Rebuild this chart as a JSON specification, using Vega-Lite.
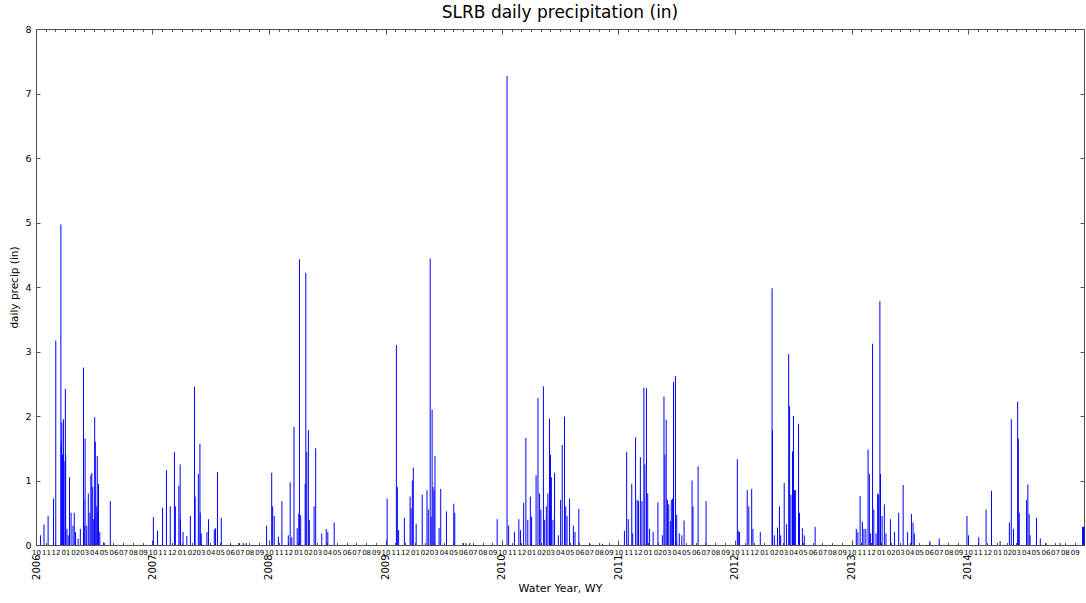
{
  "$schema": "https://vega.github.io/schema/vega-lite/v6.json",
  "width": 1048,
  "height": 516,
  "autosize": {"type": "none"},
  "padding": {"left": 36, "top": 29, "right": 2, "bottom": 58},
  "background": "white",
  "title": {"text": "SLRB daily precipitation (in)", "font": "DejaVu Sans", "fontSize": 17, "fontWeight": "normal", "color": "#000", "anchor": "middle", "offset": 2},
  "config": {
    "view": {"stroke": "#505050", "strokeWidth": 1},
    "axis": {"domain": false, "grid": false, "labelFont": "DejaVu Sans", "titleFont": "DejaVu Sans", "tickColor": "#505050", "labelColor": "#000", "titleColor": "#000", "titleFontWeight": "normal", "labelFlush": false, "labelBound": false, "labelOverlap": false}
  },
  "data": {"values": [
    {"date": "2005-10-15", "precip": 0.15},
    {"date": "2005-10-26", "precip": 0.32},
    {"date": "2005-11-08", "precip": 0.45},
    {"date": "2005-11-25", "precip": 0.72},
    {"date": "2005-12-02", "precip": 3.17},
    {"date": "2005-12-18", "precip": 4.97},
    {"date": "2005-12-19", "precip": 1.6},
    {"date": "2005-12-21", "precip": 1.9},
    {"date": "2005-12-23", "precip": 1.4},
    {"date": "2005-12-26", "precip": 1.95},
    {"date": "2005-12-28", "precip": 1.3},
    {"date": "2006-01-01", "precip": 2.42},
    {"date": "2006-01-02", "precip": 1.4},
    {"date": "2006-01-06", "precip": 0.25},
    {"date": "2006-01-10", "precip": 0.15},
    {"date": "2006-01-14", "precip": 1.05},
    {"date": "2006-01-19", "precip": 0.5},
    {"date": "2006-01-25", "precip": 0.3},
    {"date": "2006-01-29", "precip": 0.5},
    {"date": "2006-02-02", "precip": 0.2},
    {"date": "2006-02-10", "precip": 0.1},
    {"date": "2006-02-17", "precip": 0.25},
    {"date": "2006-02-27", "precip": 2.75},
    {"date": "2006-02-28", "precip": 0.7},
    {"date": "2006-03-01", "precip": 0.3},
    {"date": "2006-03-04", "precip": 1.65},
    {"date": "2006-03-09", "precip": 0.3},
    {"date": "2006-03-14", "precip": 0.8},
    {"date": "2006-03-19", "precip": 0.5},
    {"date": "2006-03-22", "precip": 1.08},
    {"date": "2006-03-25", "precip": 1.12},
    {"date": "2006-03-28", "precip": 0.9},
    {"date": "2006-03-31", "precip": 0.4},
    {"date": "2006-04-03", "precip": 1.98},
    {"date": "2006-04-05", "precip": 1.6},
    {"date": "2006-04-08", "precip": 0.6},
    {"date": "2006-04-11", "precip": 1.38},
    {"date": "2006-04-13", "precip": 0.5},
    {"date": "2006-04-15", "precip": 0.95},
    {"date": "2006-04-19", "precip": 0.2},
    {"date": "2006-05-01", "precip": 0.04},
    {"date": "2006-05-22", "precip": 0.68},
    {"date": "2006-10-04", "precip": 0.43},
    {"date": "2006-10-17", "precip": 0.22},
    {"date": "2006-11-02", "precip": 0.58},
    {"date": "2006-11-14", "precip": 1.16},
    {"date": "2006-11-26", "precip": 0.6},
    {"date": "2006-12-09", "precip": 1.44},
    {"date": "2006-12-12", "precip": 0.6},
    {"date": "2006-12-23", "precip": 0.92},
    {"date": "2006-12-27", "precip": 1.25},
    {"date": "2006-12-28", "precip": 0.4},
    {"date": "2007-01-05", "precip": 0.2},
    {"date": "2007-01-17", "precip": 0.14},
    {"date": "2007-01-28", "precip": 0.45},
    {"date": "2007-02-10", "precip": 2.45},
    {"date": "2007-02-12", "precip": 0.75},
    {"date": "2007-02-22", "precip": 1.1},
    {"date": "2007-02-27", "precip": 1.57},
    {"date": "2007-02-28", "precip": 0.5},
    {"date": "2007-03-03", "precip": 0.18},
    {"date": "2007-03-21", "precip": 0.2},
    {"date": "2007-03-26", "precip": 0.4},
    {"date": "2007-04-13", "precip": 0.24},
    {"date": "2007-04-17", "precip": 0.26},
    {"date": "2007-04-23", "precip": 1.13},
    {"date": "2007-05-05", "precip": 0.42},
    {"date": "2007-06-03", "precip": 0.02},
    {"date": "2007-06-29", "precip": 0.03},
    {"date": "2007-07-13", "precip": 0.03},
    {"date": "2007-07-22", "precip": 0.03},
    {"date": "2007-09-24", "precip": 0.3},
    {"date": "2007-10-10", "precip": 1.12},
    {"date": "2007-10-13", "precip": 0.6},
    {"date": "2007-10-18", "precip": 0.45},
    {"date": "2007-10-31", "precip": 0.13},
    {"date": "2007-11-11", "precip": 0.68},
    {"date": "2007-12-01", "precip": 0.15},
    {"date": "2007-12-07", "precip": 0.97},
    {"date": "2007-12-12", "precip": 0.12},
    {"date": "2007-12-19", "precip": 1.83},
    {"date": "2007-12-29", "precip": 0.26},
    {"date": "2008-01-03", "precip": 0.49},
    {"date": "2008-01-05", "precip": 4.43},
    {"date": "2008-01-09", "precip": 0.46},
    {"date": "2008-01-23", "precip": 0.95},
    {"date": "2008-01-25", "precip": 4.22},
    {"date": "2008-01-28", "precip": 1.44},
    {"date": "2008-02-02", "precip": 1.78},
    {"date": "2008-02-05", "precip": 0.39},
    {"date": "2008-02-20", "precip": 0.6},
    {"date": "2008-02-25", "precip": 1.5},
    {"date": "2008-03-15", "precip": 0.18},
    {"date": "2008-03-29", "precip": 0.25},
    {"date": "2008-04-03", "precip": 0.2},
    {"date": "2008-04-23", "precip": 0.35},
    {"date": "2008-10-06", "precip": 0.72},
    {"date": "2008-11-04", "precip": 3.1},
    {"date": "2008-11-07", "precip": 0.9},
    {"date": "2008-11-11", "precip": 0.23},
    {"date": "2008-11-29", "precip": 0.42},
    {"date": "2008-12-17", "precip": 0.75},
    {"date": "2008-12-20", "precip": 0.57},
    {"date": "2008-12-24", "precip": 1.0},
    {"date": "2008-12-27", "precip": 1.2},
    {"date": "2009-01-05", "precip": 0.33},
    {"date": "2009-01-24", "precip": 0.78},
    {"date": "2009-02-08", "precip": 0.85},
    {"date": "2009-02-12", "precip": 0.55},
    {"date": "2009-02-18", "precip": 4.44},
    {"date": "2009-02-21", "precip": 0.44},
    {"date": "2009-02-24", "precip": 2.1},
    {"date": "2009-02-27", "precip": 0.9},
    {"date": "2009-03-02", "precip": 0.85},
    {"date": "2009-03-05", "precip": 1.38},
    {"date": "2009-03-18", "precip": 0.26},
    {"date": "2009-03-23", "precip": 0.87},
    {"date": "2009-04-10", "precip": 0.52},
    {"date": "2009-05-03", "precip": 0.64},
    {"date": "2009-05-06", "precip": 0.5},
    {"date": "2009-06-01", "precip": 0.03},
    {"date": "2009-06-10", "precip": 0.03},
    {"date": "2009-06-22", "precip": 0.03},
    {"date": "2009-09-16", "precip": 0.4},
    {"date": "2009-10-17", "precip": 7.27},
    {"date": "2009-10-22", "precip": 0.3},
    {"date": "2009-11-09", "precip": 0.2},
    {"date": "2009-11-23", "precip": 0.4},
    {"date": "2009-11-28", "precip": 0.23},
    {"date": "2009-12-08", "precip": 0.65},
    {"date": "2009-12-15", "precip": 1.66},
    {"date": "2009-12-21", "precip": 0.39},
    {"date": "2009-12-29", "precip": 0.75},
    {"date": "2010-01-02", "precip": 0.44},
    {"date": "2010-01-16", "precip": 1.08},
    {"date": "2010-01-22", "precip": 2.28},
    {"date": "2010-01-27", "precip": 0.8},
    {"date": "2010-01-31", "precip": 0.55},
    {"date": "2010-02-08", "precip": 2.46},
    {"date": "2010-02-12", "precip": 0.39},
    {"date": "2010-02-17", "precip": 0.6},
    {"date": "2010-02-22", "precip": 0.8},
    {"date": "2010-02-27", "precip": 1.96},
    {"date": "2010-03-02", "precip": 1.4},
    {"date": "2010-03-05", "precip": 1.05},
    {"date": "2010-03-10", "precip": 0.39},
    {"date": "2010-03-15", "precip": 1.12},
    {"date": "2010-03-27", "precip": 0.15},
    {"date": "2010-04-03", "precip": 0.7},
    {"date": "2010-04-08", "precip": 1.55},
    {"date": "2010-04-15", "precip": 1.99},
    {"date": "2010-04-19", "precip": 0.6},
    {"date": "2010-04-23", "precip": 0.45},
    {"date": "2010-05-01", "precip": 0.72},
    {"date": "2010-05-13", "precip": 0.3},
    {"date": "2010-05-18", "precip": 0.2},
    {"date": "2010-05-30", "precip": 0.56},
    {"date": "2010-07-04", "precip": 0.02},
    {"date": "2010-08-12", "precip": 0.02},
    {"date": "2010-10-20", "precip": 0.22},
    {"date": "2010-10-27", "precip": 1.44},
    {"date": "2010-11-01", "precip": 0.4},
    {"date": "2010-11-12", "precip": 0.95},
    {"date": "2010-11-15", "precip": 0.18},
    {"date": "2010-11-24", "precip": 1.67},
    {"date": "2010-11-29", "precip": 0.7},
    {"date": "2010-12-03", "precip": 0.68},
    {"date": "2010-12-09", "precip": 1.36},
    {"date": "2010-12-14", "precip": 0.68},
    {"date": "2010-12-20", "precip": 2.44},
    {"date": "2010-12-23", "precip": 1.25},
    {"date": "2010-12-28", "precip": 2.43},
    {"date": "2011-01-01", "precip": 0.8},
    {"date": "2011-01-07", "precip": 0.25},
    {"date": "2011-01-18", "precip": 0.2},
    {"date": "2011-02-02", "precip": 0.66},
    {"date": "2011-02-16", "precip": 0.15},
    {"date": "2011-02-21", "precip": 2.3},
    {"date": "2011-02-24", "precip": 1.4},
    {"date": "2011-02-28", "precip": 1.94},
    {"date": "2011-03-04", "precip": 0.7},
    {"date": "2011-03-08", "precip": 0.63},
    {"date": "2011-03-13", "precip": 0.37},
    {"date": "2011-03-16", "precip": 0.7},
    {"date": "2011-03-20", "precip": 0.72},
    {"date": "2011-03-23", "precip": 2.53},
    {"date": "2011-03-29", "precip": 2.62},
    {"date": "2011-04-02", "precip": 0.47},
    {"date": "2011-04-10", "precip": 0.18},
    {"date": "2011-04-18", "precip": 0.15},
    {"date": "2011-04-25", "precip": 0.38},
    {"date": "2011-05-20", "precip": 1.0},
    {"date": "2011-05-23", "precip": 0.6},
    {"date": "2011-06-08", "precip": 1.22},
    {"date": "2011-07-03", "precip": 0.68},
    {"date": "2011-10-09", "precip": 1.33},
    {"date": "2011-10-12", "precip": 0.22},
    {"date": "2011-10-16", "precip": 0.2},
    {"date": "2011-11-09", "precip": 0.85},
    {"date": "2011-11-14", "precip": 0.6},
    {"date": "2011-11-23", "precip": 0.87},
    {"date": "2011-11-27", "precip": 0.25},
    {"date": "2011-12-20", "precip": 0.2},
    {"date": "2012-01-26", "precip": 3.98},
    {"date": "2012-01-27", "precip": 1.78},
    {"date": "2012-02-02", "precip": 0.15},
    {"date": "2012-02-12", "precip": 0.27},
    {"date": "2012-02-18", "precip": 0.6},
    {"date": "2012-02-22", "precip": 0.15},
    {"date": "2012-03-04", "precip": 0.96},
    {"date": "2012-03-11", "precip": 0.32},
    {"date": "2012-03-18", "precip": 2.96},
    {"date": "2012-03-21", "precip": 2.15},
    {"date": "2012-03-25", "precip": 0.78},
    {"date": "2012-03-30", "precip": 1.45},
    {"date": "2012-04-02", "precip": 2.0},
    {"date": "2012-04-05", "precip": 0.85},
    {"date": "2012-04-08", "precip": 0.85},
    {"date": "2012-04-18", "precip": 1.88},
    {"date": "2012-04-21", "precip": 0.5},
    {"date": "2012-04-30", "precip": 0.26},
    {"date": "2012-05-06", "precip": 0.15},
    {"date": "2012-06-09", "precip": 0.28},
    {"date": "2012-10-16", "precip": 0.25},
    {"date": "2012-10-21", "precip": 0.2},
    {"date": "2012-10-28", "precip": 0.76},
    {"date": "2012-11-04", "precip": 0.36},
    {"date": "2012-11-09", "precip": 0.25},
    {"date": "2012-11-15", "precip": 0.25},
    {"date": "2012-11-22", "precip": 1.48},
    {"date": "2012-11-26", "precip": 1.1},
    {"date": "2012-11-30", "precip": 0.18},
    {"date": "2012-12-06", "precip": 3.12},
    {"date": "2012-12-10", "precip": 0.55},
    {"date": "2012-12-17", "precip": 0.18},
    {"date": "2012-12-22", "precip": 0.8},
    {"date": "2012-12-25", "precip": 0.78},
    {"date": "2012-12-29", "precip": 3.78},
    {"date": "2012-12-31", "precip": 1.1},
    {"date": "2013-01-05", "precip": 0.45},
    {"date": "2013-01-12", "precip": 0.63},
    {"date": "2013-01-17", "precip": 0.18},
    {"date": "2013-01-31", "precip": 0.4},
    {"date": "2013-02-13", "precip": 0.2},
    {"date": "2013-02-26", "precip": 0.5},
    {"date": "2013-03-12", "precip": 0.93},
    {"date": "2013-03-26", "precip": 0.2},
    {"date": "2013-04-07", "precip": 0.48},
    {"date": "2013-04-12", "precip": 0.35},
    {"date": "2013-04-16", "precip": 0.18},
    {"date": "2013-06-04", "precip": 0.06},
    {"date": "2013-07-03", "precip": 0.1},
    {"date": "2013-09-28", "precip": 0.45},
    {"date": "2013-10-03", "precip": 0.15},
    {"date": "2013-11-04", "precip": 0.12},
    {"date": "2013-11-27", "precip": 0.55},
    {"date": "2013-12-14", "precip": 0.84},
    {"date": "2014-01-10", "precip": 0.06},
    {"date": "2014-02-08", "precip": 0.35},
    {"date": "2014-02-14", "precip": 1.95},
    {"date": "2014-02-21", "precip": 0.25},
    {"date": "2014-03-06", "precip": 2.22},
    {"date": "2014-03-08", "precip": 1.65},
    {"date": "2014-03-11", "precip": 0.5},
    {"date": "2014-04-03", "precip": 0.7},
    {"date": "2014-04-07", "precip": 0.94},
    {"date": "2014-04-11", "precip": 0.48},
    {"date": "2014-04-14", "precip": 0.15},
    {"date": "2014-05-04", "precip": 0.42},
    {"date": "2014-05-16", "precip": 0.1},
    {"date": "2014-06-03", "precip": 0.03},
    {"date": "2014-07-17", "precip": 0.03},
    {"date": "2014-09-26", "precip": 0.28},
    {"date": "2014-09-27", "precip": 0.28},
    {"date": "2014-09-28", "precip": 0.28},
    {"date": "2014-09-29", "precip": 0.28},
    {"date": "2014-09-30", "precip": 0.28}
  ]},
  "layer": [
    {
      "mark": {"type": "rule", "color": "#0000ff", "strokeWidth": 1},
      "encoding": {
        "x": {"field": "date", "type": "temporal",
          "scale": {"domain": [{"year": 2005, "month": 10, "date": 1}, {"year": 2014, "month": 9, "date": 30}]},
          "axis": {"orient": "bottom", "title": null, "format": "%m", "tickCount": {"interval": "month", "step": 1}, "labelFontSize": 7, "tickSize": -2.5, "labelPadding": 6, "labelAngle": 0}},
        "y": {"field": "precip", "type": "quantitative",
          "scale": {"domain": [0, 8], "nice": false},
          "axis": {"orient": "left", "values": [0, 1, 2, 3, 4, 5, 6, 7, 8], "labelFontSize": 9.5, "tickSize": -4, "labelPadding": 9, "title": "daily precip (in)", "titleFontSize": 10.5, "titlePadding": 5}},
        "y2": {"datum": 0}
      }
    },
    {
      "mark": {"type": "point", "opacity": 0},
      "encoding": {
        "x": {"field": "date", "type": "temporal",
          "axis": {"orient": "bottom", "values": [{"year": 2005, "month": 10, "date": 1}, {"year": 2006, "month": 10, "date": 1}, {"year": 2007, "month": 10, "date": 1}, {"year": 2008, "month": 10, "date": 1}, {"year": 2009, "month": 10, "date": 1}, {"year": 2010, "month": 10, "date": 1}, {"year": 2011, "month": 10, "date": 1}, {"year": 2012, "month": 10, "date": 1}, {"year": 2013, "month": 10, "date": 1}],
            "labelExpr": "'' + (year(datum.value) + 1)", "labelAngle": 270, "labelFontSize": 10, "tickSize": -5, "labelPadding": 14,
            "title": "Water Year, WY", "titleFontSize": 11, "titlePadding": 3}},
        "y": {"field": "precip", "type": "quantitative",
          "axis": {"orient": "right", "values": [0, 1, 2, 3, 4, 5, 6, 7, 8], "labels": false, "tickSize": -4, "title": null}}
      }
    },
    {
      "mark": {"type": "point", "opacity": 0},
      "encoding": {
        "x": {"field": "date", "type": "temporal",
          "axis": {"orient": "top", "tickCount": {"interval": "month", "step": 1}, "labels": false, "tickSize": -2.5, "title": null}},
        "y": {"field": "precip", "type": "quantitative", "axis": null}
      }
    },
    {
      "mark": {"type": "point", "opacity": 0},
      "encoding": {
        "x": {"field": "date", "type": "temporal",
          "axis": {"orient": "top", "values": [{"year": 2005, "month": 10, "date": 1}, {"year": 2006, "month": 10, "date": 1}, {"year": 2007, "month": 10, "date": 1}, {"year": 2008, "month": 10, "date": 1}, {"year": 2009, "month": 10, "date": 1}, {"year": 2010, "month": 10, "date": 1}, {"year": 2011, "month": 10, "date": 1}, {"year": 2012, "month": 10, "date": 1}, {"year": 2013, "month": 10, "date": 1}], "labels": false, "tickSize": -5, "title": null}},
        "y": {"field": "precip", "type": "quantitative", "axis": null}
      }
    }
  ],
  "resolve": {"axis": {"x": "independent", "y": "independent"}}
}
